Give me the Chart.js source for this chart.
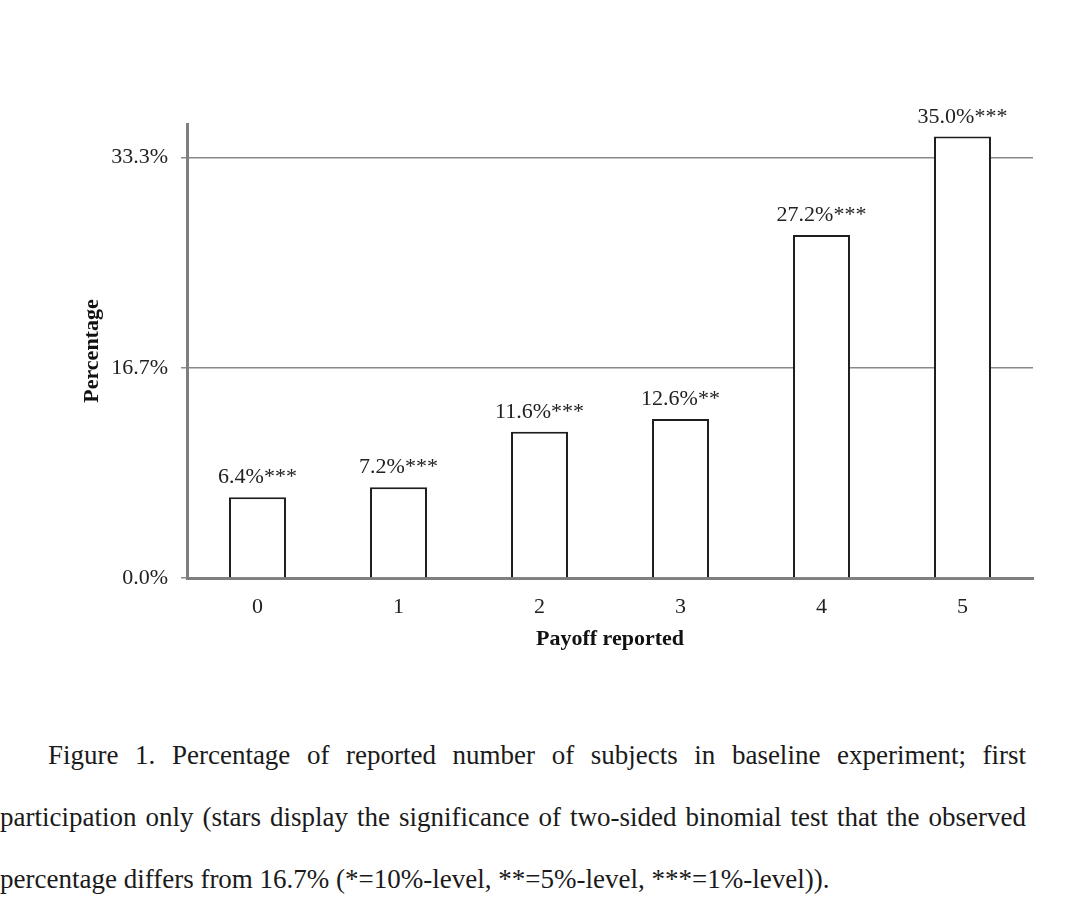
<!DOCTYPE html>
<html>
<head>
<meta charset="utf-8">
<script src="https://cdn.jsdelivr.net/npm/chart.js@4"></script>
<style>
  html, body { margin: 0; padding: 0; background: #fff; }
  body { width: 1086px; height: 914px; position: relative; overflow: hidden; }
  #wrap { position: absolute; left: 0; top: 0; width: 1086px; height: 700px; }
  #caption { position: absolute; left: 0; top: 724px; width: 1026px;
    font-family: "Liberation Serif", "Times New Roman", serif; font-size: 27px; color: #1a1a1a; line-height: 62px; }
  .ln { white-space: nowrap; }
  .j { text-align: justify; text-align-last: justify; white-space: normal; }
</style>
</head>
<body>
<div id="wrap"><canvas id="c" width="1086" height="700"></canvas></div>
<div id="caption">
  <div class="j" style="padding-left:48px">Figure 1. Percentage of reported number of subjects in baseline experiment; first</div>
  <div class="j">participation only (stars display the significance of two-sided binomial test that the observed</div>
  <div class="ln">percentage differs from 16.7% (*=10%-level, **=5%-level, ***=1%-level)).</div>
</div>
<script>
const categories = ['0', '1', '2', '3', '4', '5'];
const percentages = [6.4, 7.2, 11.6, 12.6, 27.2, 35.0];
const stars = ['***', '***', '***', '**', '***', '***'];
const yTicks = [0, 16.667, 33.333];

const SERIF = '"Liberation Serif", "Times New Roman", serif';

const labelPlugin = {
  id: 'barLabels',
  afterDatasetsDraw(chart) {
    const ctx = chart.ctx;
    const meta = chart.getDatasetMeta(0);
    ctx.save();
    ctx.font = '22px ' + SERIF;
    ctx.fillStyle = '#222';
    ctx.textAlign = 'center';
    ctx.textBaseline = 'alphabetic';
    meta.data.forEach((bar, i) => {
      ctx.fillText(percentages[i].toFixed(1) + '%' + stars[i], bar.x, bar.y - 14);
    });
    ctx.restore();
  }
};

new Chart(document.getElementById('c'), {
  type: 'bar',
  data: {
    labels: categories,
    datasets: [{
      data: percentages,
      backgroundColor: '#ffffff',
      borderColor: '#1e1e1e',
      borderWidth: 2,
      barPercentage: 0.404,
      categoryPercentage: 1.0
    }]
  },
  options: {
    responsive: false,
    animation: false,
    layout: { padding: { left: 0, top: 124, right: 53, bottom: 0 } },
    plugins: { legend: { display: false }, tooltip: { enabled: false } },
    scales: {
      x: {
        afterFit(scale) { scale.height = 122; },
        grid: { display: false, drawTicks: false },
        border: { display: true, color: '#7f7f7f', width: 3 },
        ticks: { color: '#222', font: { family: SERIF, size: 22 }, padding: 16 },
        title: { display: true, text: 'Payoff reported', color: '#111',
          font: { family: SERIF, size: 22, weight: 'bold' }, padding: { top: 0, bottom: 47 } }
      },
      y: {
        min: 0, max: 36,
        afterFit(scale) { scale.width = 187; },
        afterBuildTicks(scale) { scale.ticks = yTicks.map(v => ({ value: v })); },
        grid: { color: '#8a8a8a', lineWidth: 1.5, drawTicks: true, tickLength: 6 },
        border: { display: true, color: '#7f7f7f', width: 3 },
        ticks: { color: '#222', font: { family: SERIF, size: 22 }, padding: 13,
          callback: v => Number(v).toFixed(1) + '%' },
        title: { display: true, text: 'Percentage', color: '#111',
          font: { family: SERIF, size: 22, weight: 'bold' }, padding: { top: 79, bottom: 0 } }
      }
    }
  },
  plugins: [labelPlugin]
});
</script>
</body>
</html>
